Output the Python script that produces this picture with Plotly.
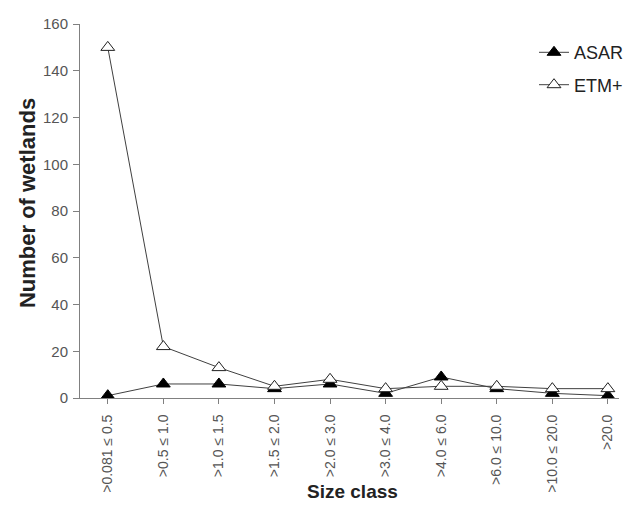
import plotly.graph_objects as go

categories = [">0.081 ≤ 0.5", ">0.5 ≤ 1.0", ">1.0 ≤ 1.5", ">1.5 ≤ 2.0", ">2.0 ≤ 3.0",
              ">3.0 ≤ 4.0", ">4.0 ≤ 6.0", ">6.0 ≤ 10.0", ">10.0 ≤ 20.0", ">20.0"]
asar = [1, 6, 6, 4, 6, 2, 9, 4, 2, 1]
etm = [150, 22, 13, 5, 8, 4, 5, 5, 4, 4]
y_ticks = [0, 20, 40, 60, 80, 100, 120, 140, 160]

FONT = "Liberation Sans, Arial, sans-serif"

fig = go.Figure()
fig.add_trace(go.Scatter(
    x=categories, y=asar, name="ASAR", mode="lines+markers", legendgroup="a",
    line=dict(color="#404040", width=1),
    marker=dict(symbol="triangle-up", size=12, color="black",
                line=dict(color="black", width=1)),
))
fig.add_trace(go.Scatter(
    x=categories, y=etm, name="ETM+", mode="lines+markers", legendgroup="b",
    line=dict(color="#404040", width=1),
    marker=dict(symbol="triangle-up", size=12, color="white",
                line=dict(color="#202020", width=1)),
))

fig.update_layout(
    width=621, height=494,
    margin=dict(l=72, r=0, t=16, b=104),
    paper_bgcolor="white", plot_bgcolor="white",
    font=dict(family=FONT, size=12, color="#555555"),
    showlegend=True,
    legend=dict(x=0.843, y=0.973, xanchor="left", yanchor="top",
                bgcolor="rgba(0,0,0,0)", font=dict(size=18, color="#222222"),
                tracegroupgap=6, itemwidth=30),
    xaxis=dict(
        type="category", range=[-0.5, 9.2],
        showline=True, linecolor="#808080", linewidth=1,
        ticks="outside", ticklen=5, tickcolor="#808080",
        tickangle=-90, tickfont=dict(size=14, color="#555555"), ticklabelstandoff=5,
        showgrid=False, zeroline=False,
    ),
    yaxis=dict(
        range=[0, 160], tickvals=y_ticks,
        showline=True, linecolor="#808080", linewidth=1,
        ticks="outside", ticklen=6, tickcolor="#808080",
        tickfont=dict(size=15, color="#555555"), ticklabelstandoff=2,
        showgrid=False, zeroline=False,
    ),
    annotations=[
        dict(text="<b>Size class</b>", xref="paper", yref="paper",
             x=0.506, y=-0.249, xanchor="center", yanchor="middle",
             showarrow=False, font=dict(size=19, color="#222222")),
        dict(text="<b>Number of wetlands</b>", xref="paper", yref="paper",
             x=-0.0984, y=0.521, xanchor="center", yanchor="middle",
             textangle=-90, showarrow=False, font=dict(size=22, color="#222222")),
    ],
)

fig.write_html("out.html")
